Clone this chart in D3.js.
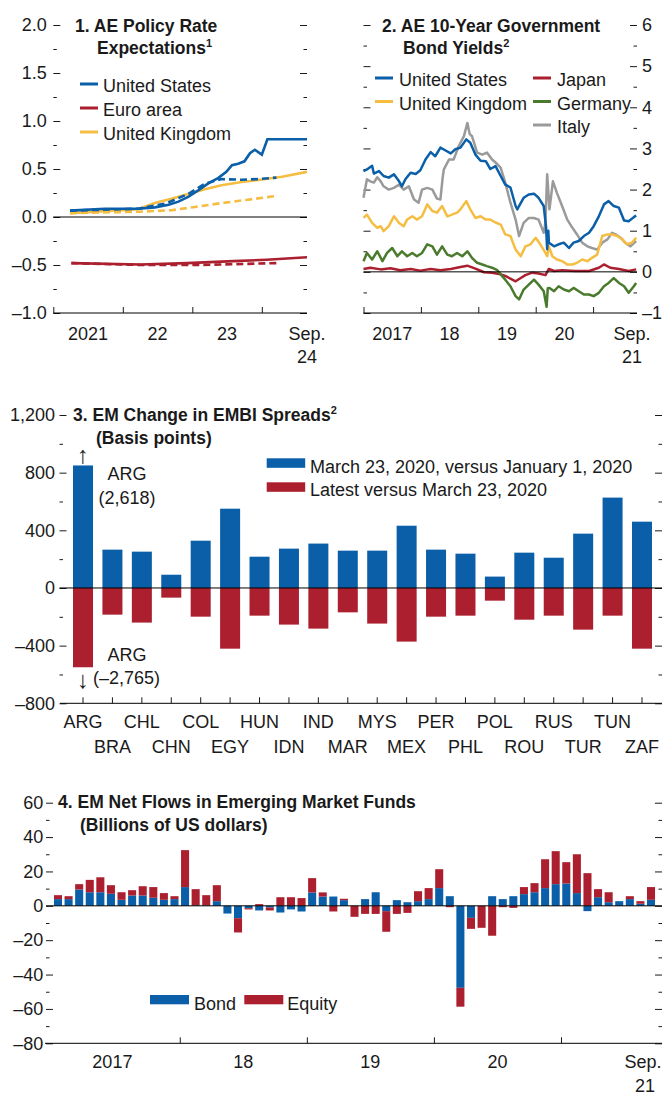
<!DOCTYPE html>
<meta charset="utf-8">
<style>
  body { margin: 0; background: #fff; }
  svg { font-family: "Liberation Sans", Arial, sans-serif; fill: #1a1a1a; }
  .axis .domain { display: none; }
  .axis line { stroke: #1a1a1a; }
  .axis text { font-size: 18px; fill: #1a1a1a; font-family: "Liberation Sans", Arial, sans-serif; }
  .title { font-size: 17.5px; font-weight: bold; }
  .txt { font-size: 18px; }
</style>
<script src="https://d3js.org/d3.v7.min.js"></script>
<body>
<script>

const BLUE = "#0a5fa8", RED = "#ab1f2f", YELLOW = "#f5bd42", GREEN = "#4a7a2c", GRAY = "#9a9a9a";

// ---- panel 1: policy rate expectations (decimal year, percent); "Prev" = dashed
const usNow = [[2021.24,0.066],[2021.74,0.086],[2022.22,0.086],[2022.46,0.10],[2022.66,0.128],[2022.80,0.16],
  [2022.94,0.21],[2023.09,0.28],[2023.23,0.35],[2023.37,0.405],[2023.49,0.47],[2023.57,0.54],[2023.66,0.555],
  [2023.75,0.58],[2023.83,0.665],[2023.90,0.70],[2024.00,0.65],[2024.08,0.81],[2024.65,0.81]];
const usPrev = [[2021.24,0.066],[2022.22,0.086],[2022.61,0.138],[2022.94,0.24],[2023.18,0.346],[2023.42,0.395],
  [2023.71,0.388],[2023.95,0.395],[2024.21,0.41]];
const euroNow = [[2021.26,-0.48],[2022.25,-0.495],[2022.92,-0.48],[2023.59,-0.46],[2024.07,-0.445],[2024.65,-0.42]];
const euroPrev = [[2021.26,-0.48],[2022.25,-0.50],[2023.11,-0.50],[2024.24,-0.48]];
const ukNow = [[2021.24,0.04],[2022.22,0.08],[2022.46,0.145],[2022.70,0.19],[2022.94,0.24],[2023.18,0.29],
  [2023.42,0.33],[2023.71,0.365],[2024.00,0.39],[2024.29,0.42],[2024.65,0.47]];
const ukPrev = [[2021.24,0.04],[2022.22,0.055],[2022.70,0.07],[2023.04,0.105],[2023.42,0.145],[2023.80,0.18],[2024.21,0.22]];

// ---- panel 2: 10-year yields (decimal year, percent)
const usYield = [[2017.00,2.45],[2017.06,2.49],[2017.15,2.58],[2017.18,2.39],[2017.27,2.45],[2017.35,2.33],[2017.44,2.29],
  [2017.53,2.37],[2017.62,2.2],[2017.67,2.08],[2017.73,2.25],[2017.82,2.41],[2017.91,2.38],[2017.99,2.47],[2018.08,2.73],
  [2018.17,2.91],[2018.25,2.81],[2018.34,3.02],[2018.43,2.95],[2018.52,2.88],[2018.60,2.98],[2018.69,3.02],[2018.79,3.22],
  [2018.86,3.14],[2018.95,2.85],[2019.04,2.7],[2019.13,2.69],[2019.21,2.5],[2019.30,2.57],[2019.39,2.33],[2019.47,2.12],
  [2019.56,2.05],[2019.65,1.6],[2019.68,1.52],[2019.71,1.6],[2019.79,1.8],[2019.88,1.88],[2019.97,1.9],[2020.05,1.8],
  [2020.14,1.6],[2020.18,1.1],[2020.20,0.55],[2020.22,1.0],[2020.23,0.71],[2020.32,0.62],[2020.40,0.67],[2020.49,0.71],
  [2020.58,0.58],[2020.66,0.71],[2020.75,0.75],[2020.84,0.87],[2020.93,0.95],[2021.01,1.11],[2021.10,1.35],[2021.19,1.64],
  [2021.27,1.72],[2021.36,1.6],[2021.45,1.56],[2021.54,1.25],[2021.62,1.23],[2021.71,1.33],[2021.75,1.37]];
const italyYield = [[2017.00,1.8],[2017.06,2.25],[2017.12,2.2],[2017.18,2.17],[2017.24,2.3],[2017.30,2.2],[2017.35,2.08],
  [2017.44,2.0],[2017.53,2.04],[2017.62,2.12],[2017.70,2.0],[2017.79,2.08],[2017.88,1.76],[2017.96,1.68],[2018.02,2.0],
  [2018.11,2.04],[2018.20,2.0],[2018.28,1.78],[2018.34,1.76],[2018.38,2.3],[2018.40,2.49],[2018.49,2.73],[2018.57,2.73],
  [2018.66,3.06],[2018.75,3.3],[2018.81,3.62],[2018.85,3.35],[2018.89,3.3],[2018.98,2.9],[2019.07,2.85],[2019.15,2.9],
  [2019.24,2.73],[2019.33,2.62],[2019.39,2.53],[2019.47,2.17],[2019.56,1.68],[2019.65,1.27],[2019.71,0.87],[2019.79,1.19],
  [2019.88,1.31],[2019.97,1.31],[2020.05,1.27],[2020.14,0.95],[2020.17,1.2],[2020.20,2.37],[2020.24,1.52],[2020.30,2.2],
  [2020.37,1.92],[2020.46,1.6],[2020.55,1.27],[2020.64,1.07],[2020.72,0.91],[2020.81,0.71],[2020.90,0.62],[2020.98,0.58],
  [2021.07,0.54],[2021.16,0.71],[2021.25,0.79],[2021.33,0.95],[2021.39,0.91],[2021.48,0.83],[2021.56,0.71],[2021.65,0.62],
  [2021.75,0.75]];
const ukYield = [[2017.00,1.31],[2017.06,1.39],[2017.15,1.19],[2017.24,1.07],[2017.30,1.11],[2017.35,0.99],[2017.44,1.11],
  [2017.53,1.35],[2017.62,1.19],[2017.70,1.11],[2017.76,1.27],[2017.85,1.35],[2017.93,1.27],[2018.02,1.35],[2018.11,1.64],
  [2018.20,1.48],[2018.28,1.44],[2018.37,1.6],[2018.46,1.35],[2018.54,1.39],[2018.63,1.44],[2018.69,1.52],[2018.79,1.72],
  [2018.86,1.52],[2018.95,1.31],[2019.04,1.35],[2019.13,1.27],[2019.21,1.27],[2019.30,1.2],[2019.39,1.15],[2019.47,0.91],
  [2019.56,0.87],[2019.65,0.54],[2019.74,0.38],[2019.82,0.62],[2019.91,0.67],[2020.00,0.83],[2020.08,0.67],[2020.17,0.46],
  [2020.20,0.38],[2020.23,0.62],[2020.29,0.38],[2020.37,0.3],[2020.46,0.26],[2020.55,0.18],[2020.64,0.18],[2020.72,0.22],
  [2020.81,0.3],[2020.90,0.26],[2020.98,0.34],[2021.07,0.42],[2021.16,0.87],[2021.25,0.91],[2021.33,0.91],[2021.42,0.87],
  [2021.51,0.79],[2021.59,0.67],[2021.68,0.71],[2021.75,0.83]];
const germanyYield = [[2017.00,0.26],[2017.06,0.46],[2017.15,0.3],[2017.24,0.5],[2017.33,0.26],[2017.41,0.46],[2017.50,0.58],
  [2017.59,0.38],[2017.67,0.5],[2017.76,0.38],[2017.85,0.46],[2017.93,0.38],[2018.02,0.46],[2018.11,0.67],[2018.20,0.62],
  [2018.28,0.42],[2018.37,0.62],[2018.46,0.42],[2018.54,0.38],[2018.63,0.46],[2018.72,0.38],[2018.81,0.5],[2018.89,0.34],
  [2018.98,0.22],[2019.07,0.18],[2019.15,0.14],[2019.24,0.1],[2019.33,0.04],[2019.39,-0.06],[2019.47,-0.19],[2019.56,-0.35],
  [2019.65,-0.59],[2019.71,-0.67],[2019.79,-0.43],[2019.88,-0.31],[2019.97,-0.19],[2020.05,-0.31],[2020.14,-0.47],
  [2020.19,-0.85],[2020.21,-0.4],[2020.24,-0.39],[2020.32,-0.47],[2020.40,-0.35],[2020.49,-0.43],[2020.58,-0.47],
  [2020.66,-0.39],[2020.75,-0.47],[2020.84,-0.55],[2020.93,-0.55],[2021.01,-0.59],[2021.10,-0.51],[2021.19,-0.35],
  [2021.27,-0.27],[2021.36,-0.15],[2021.45,-0.27],[2021.54,-0.35],[2021.62,-0.51],[2021.71,-0.35],[2021.75,-0.27]];
const japanYield = [[2017.00,0.07],[2017.12,0.1],[2017.30,0.06],[2017.47,0.09],[2017.64,0.04],[2017.82,0.07],[2017.99,0.03],
  [2018.17,0.07],[2018.34,0.04],[2018.52,0.07],[2018.69,0.12],[2018.81,0.15],[2018.95,0.08],[2019.10,-0.01],[2019.24,-0.02],
  [2019.39,-0.06],[2019.47,-0.1],[2019.65,-0.23],[2019.74,-0.15],[2019.82,-0.08],[2019.94,-0.02],[2020.05,-0.04],
  [2020.17,-0.08],[2020.23,0.07],[2020.32,0.02],[2020.46,0.04],[2020.69,0.02],[2020.93,0.02],[2021.10,0.1],[2021.19,0.18],
  [2021.30,0.1],[2021.45,0.07],[2021.62,0.02],[2021.75,0.06]];

// ---- panel 3: change in EMBI spreads (basis points)
const countries = ["ARG","BRA","CHL","CHN","COL","EGY","HUN","IDN","IND","MAR",
                   "MYS","MEX","PER","PHL","POL","ROU","RUS","TUR","TUN","ZAF"];
const marchVsJan = [2618, 266, 252, 92, 328, 550, 217, 273, 308, 259, 259, 432, 266, 238, 79, 245, 210, 377, 627, 460];
const latestVsMarch = [-2765, -185, -240, -67, -199, -421, -192, -254, -282, -169,
                       -247, -372, -199, -192, -88, -220, -192, -289, -192, -421];
const spreadCap = [-550, 850]; // ARG bars are cut off at these values

// ---- panel 4: monthly flows, Jan 2017 - Sep 2021 (billions of US dollars)
const bondFlows = [3.9, 3.9, 9.5, 7.9, 7.9, 7.0, 3.5, 6.0, 6.0, 4.7, 3.5, 3.9,
  10.9, 0.3, 0.2, 2.7, -4.5, -7.2, -1.4, -2.7, -1.0, -3.9, -2.1, -3.3,
  7.8, 5.4, 5.4, 3.3, 0, 3.9, 7.9, -3.1, 3.3, 2.1, 2.7, 3.9,
  10.3, 5.6, -47.7, -7.0, 0, 5.6, 3.9, 5.6, 6.8, 7.9, 10.3, 12.6,
  13.0, 7.4, -3.1, 5.0, 2.1, 2.7, 3.9, 1.2, 3.5];
const equityFlows = [2.3, 1.7, 3.1, 7.2, 8.7, 5.0, 4.4, 3.1, 5.4, 6.2, 3.9, 1.7,
  21.5, 9.4, 6.0, 9.3, 0, -8.3, -0.7, 1.0, -1.7, 5.0, 5.0, 4.5,
  8.3, 2.4, -3.3, 0.8, -6.4, -4.7, -4.7, -12.0, -4.7, -4.1, 5.8, 6.4,
  11.0, -0.8, -11.0, -6.4, -12.8, -17.4, -0.8, -1.2, 4.1, 5.3, 16.8, 19.2,
  12.4, 22.6, 19.0, 4.7, 5.8, 0, 1.7, 1.5, 7.4];
const flowMonths = d3.timeMonths(new Date(2017, 0, 1), new Date(2021, 9, 1));

// en dash for negatives, as in the source
const loc = d3.formatLocale({ decimal: ".", thousands: ",", grouping: [3], currency: ["$", ""], minus: "\u2013" });

const svg = d3.select("body").append("svg")
    .attr("width", 662).attr("height", 1094);

// left/right inside ticks (major + minor), labels on one side
function yFrame(y, x0, x1, major, minor, fmt, labelSide, pad) {
  const left = svg.append("g").attr("class", "axis").attr("transform", `translate(${x0},0)`);
  if (labelSide === "left") {
    left.call(d3.axisLeft(y).tickValues(major).tickSize(-7).tickPadding(pad).tickFormat(fmt));
  } else {
    left.call(d3.axisLeft(y).tickValues(major).tickSize(-7).tickFormat(""));
  }
  svg.append("g").attr("class", "axis").attr("transform", `translate(${x0},0)`)
      .call(d3.axisLeft(y).tickValues(minor).tickSize(-3.5).tickFormat(""));
  const right = svg.append("g").attr("class", "axis").attr("transform", `translate(${x1},0)`);
  if (labelSide === "right") {
    right.call(d3.axisRight(y).tickValues(major).tickSize(-7).tickPadding(pad).tickFormat(fmt));
  } else {
    right.call(d3.axisRight(y).tickValues(major).tickSize(-7).tickFormat(""));
  }
  svg.append("g").attr("class", "axis").attr("transform", `translate(${x1},0)`)
      .call(d3.axisRight(y).tickValues(minor).tickSize(-3.5).tickFormat(""));
}

function hline(x0, x1, yv) {
  svg.append("line").attr("x1", x0).attr("x2", x1).attr("y1", yv).attr("y2", yv)
      .attr("stroke", "#000").attr("stroke-width", 1);
}

function title(x, indent, y, line1, line2, sup, supOnFirst) {
  const t1 = svg.append("text").attr("class", "title").attr("x", x).attr("y", y).text(line1);
  const t2 = svg.append("text").attr("class", "title").attr("x", x + indent).attr("y", y + 22.7).text(line2);
  if (sup) {
    (supOnFirst ? t1 : t2).append("tspan").attr("font-size", 11).attr("dy", -7).text(sup);
  }
}

function txt(x, y, s, anchor) {
  return svg.append("text").attr("class", "txt").attr("x", x).attr("y", y)
      .attr("text-anchor", anchor || "start").text(s);
}

// ================= Panel 1 =================
{
  const x = d3.scaleLinear().domain([2021, 2024.65]).range([53.3, 307]);
  const y = d3.scaleLinear().domain([-1, 2]).range([313, 25]);
  yFrame(y, 53.3, 307, [-1, -0.5, 0, 0.5, 1, 1.5, 2], [-0.75, -0.25, 0.25, 0.75, 1.25, 1.75],
         loc.format(".1f"), "left", 6.6);
  hline(53.3, 307, y(0));
  hline(53.3, 307, 313);
  svg.append("g").attr("class", "axis").attr("transform", "translate(0,313)")
      .call(d3.axisBottom(x).tickValues([2021, 2022, 2023, 2024]).tickSize(-6).tickFormat(""));
  txt((x(2021) + x(2022)) / 2, 340, "2021", "middle");
  txt(x(2022.5), 340, "22", "middle");
  txt(x(2023.5), 340, "23", "middle");
  txt(307, 340, "Sep.", "middle");
  txt(307, 362.5, "24", "middle");

  const line = d3.line().x(d => x(d[0])).y(d => y(d[1]));
  const series = [
    [ukPrev, YELLOW, true], [ukNow, YELLOW, false],
    [euroPrev, RED, true], [euroNow, RED, false],
    [usNow, BLUE, false], [usPrev, BLUE, true]
  ];
  series.forEach(([d, c, dashed]) => {
    svg.append("path").datum(d).attr("d", line).attr("fill", "none")
        .attr("stroke", c).attr("stroke-width", 2.6)
        .attr("stroke-dasharray", dashed ? "7,4" : null);
  });

  title(75, 22, 31.7, "1. AE Policy Rate", "Expectations", "1", false);
  [["United States", BLUE], ["Euro area", RED], ["United Kingdom", YELLOW]].forEach(([n, c], i) => {
    const by = 92 + i * 24;
    svg.append("line").attr("x1", 80).attr("x2", 98).attr("y1", by - 8).attr("y2", by - 8)
        .attr("stroke", c).attr("stroke-width", 3);
    txt(103, by, n);
  });
}

// ================= Panel 2 =================
{
  const x = d3.scaleLinear().domain([2017, 2021.765]).range([363.5, 637]);
  const y = d3.scaleLinear().domain([-1, 6]).range([313, 25]);
  yFrame(y, 363.5, 637, d3.range(-1, 7), d3.range(-0.5, 6, 1), loc.format("d"), "right", 5);
  hline(363.5, 637, 313);
  svg.append("g").attr("class", "axis").attr("transform", "translate(0,313)")
      .call(d3.axisBottom(x).tickValues([2017, 2018, 2019, 2020, 2021]).tickSize(-6).tickFormat(""));
  txt((x(2017) + x(2018)) / 2, 340, "2017", "middle");
  txt(x(2018.5), 340, "18", "middle");
  txt(x(2019.5), 340, "19", "middle");
  txt(x(2020.5), 340, "20", "middle");
  txt(632, 340, "Sep.", "middle");
  txt(632, 362.5, "21", "middle");

  const line = d3.line().x(d => x(d[0])).y(d => y(d[1]));
  [[italyYield, GRAY], [japanYield, RED], [germanyYield, GREEN], [ukYield, YELLOW], [usYield, BLUE]]
    .forEach(([d, c]) => {
      svg.append("path").datum(d).attr("d", line).attr("fill", "none")
          .attr("stroke", c).attr("stroke-width", 2.5).attr("stroke-linejoin", "round");
    });
  hline(363.5, 637, y(0));

  title(382, 21, 31.7, "2. AE 10-Year Government", "Bond Yields", "2", false);
  [["United States", BLUE, 375, 0], ["Japan", RED, 533, 0], ["United Kingdom", YELLOW, 375, 1],
   ["Germany", GREEN, 533, 1], ["Italy", GRAY, 533, 2]].forEach(([n, c, lx, r]) => {
    const by = 86 + r * 23.5;
    svg.append("line").attr("x1", lx).attr("x2", lx + 18).attr("y1", by - 8).attr("y2", by - 8)
        .attr("stroke", c).attr("stroke-width", 3);
    txt(lx + 24, by, n);
  });
}

// ================= Panel 3 =================
{
  const x = d3.scaleBand().domain(countries).range([68.3, 656.7]).paddingInner(0.32).paddingOuter(0.16);
  const y = d3.scaleLinear().domain([-800, 1200]).range([703.3, 415]);
  yFrame(y, 59.5, 662, [-800, -400, 0, 400, 800, 1200], [-600, -200, 200, 600, 1000],
         loc.format(","), "left", 4.5);

  svg.append("g").selectAll("rect.up").data(countries).join("rect")
      .attr("x", d => x(d)).attr("width", x.bandwidth())
      .attr("y", (d, i) => y(Math.min(marchVsJan[i], spreadCap[1])))
      .attr("height", (d, i) => y(0) - y(Math.min(marchVsJan[i], spreadCap[1])))
      .attr("fill", BLUE);
  svg.append("g").selectAll("rect.down").data(countries).join("rect")
      .attr("x", d => x(d)).attr("width", x.bandwidth())
      .attr("y", y(0))
      .attr("height", (d, i) => y(Math.max(latestVsMarch[i], spreadCap[0])) - y(0))
      .attr("fill", RED);

  hline(59.5, 662, y(0));
  hline(60, 662, 703.3);
  svg.append("g").attr("class", "axis").attr("transform", "translate(0,703.3)")
      .call(d3.axisBottom(x).tickSize(-6).tickFormat(""));
  countries.forEach((c, i) => {
    txt(x(c) + x.bandwidth() / 2, i % 2 === 0 ? 728 : 752.5, c, "middle");
  });

  // ARG off-scale notes
  const ax = x("ARG") + x.bandwidth() / 2;
  txt(ax, 463, "↑", "middle").style("font-size", "24px");
  txt(127, 480, "ARG", "middle");
  txt(127, 503.5, "(" + loc.format(",")(marchVsJan[0]) + ")", "middle");
  txt(127, 660.7, "ARG", "middle");
  txt(ax, 688, "↓", "middle").style("font-size", "24px");
  txt(93, 683.5, "(" + loc.format(",")(latestVsMarch[0]) + ")");

  title(73, 23, 421, "3. EM Change in EMBI Spreads", "(Basis points)", "2", true);
  svg.append("rect").attr("x", 266.7).attr("y", 458.3).attr("width", 38.5).attr("height", 9.5).attr("fill", BLUE);
  svg.append("rect").attr("x", 266.7).attr("y", 482.3).attr("width", 38.5).attr("height", 9.5).attr("fill", RED);
  txt(310, 472.7, "March 23, 2020, versus January 1, 2020");
  txt(310, 496.3, "Latest versus March 23, 2020");
}

// ================= Panel 4 =================
{
  const idx = d3.range(flowMonths.length);
  const x = d3.scaleBand().domain(idx).range([52.7, 656.3]).paddingInner(0.24).paddingOuter(0.12);
  const xm = d3.scaleLinear().domain([0, flowMonths.length]).range([52.7, 656.3]);
  const y = d3.scaleLinear().domain([-80, 60]).range([1043.3, 802.7]);
  yFrame(y, 46, 662, d3.range(-80, 61, 20), d3.range(-70, 60, 20), loc.format("d"), "left", 2.7);

  const rows = idx.map(i => ({ month: flowMonths[i], bond: bondFlows[i], equity: equityFlows[i] }));
  const stacked = d3.stack().keys(["bond", "equity"]).offset(d3.stackOffsetDiverging)(rows);
  const colors = { bond: BLUE, equity: RED };
  svg.append("g").selectAll("g").data(stacked).join("g")
      .attr("fill", s => colors[s.key])
    .selectAll("rect").data(s => s).join("rect")
      .attr("x", (d, i) => x(i)).attr("width", x.bandwidth())
      .attr("y", d => y(Math.max(d[0], d[1])))
      .attr("height", d => Math.abs(y(d[0]) - y(d[1])));

  hline(46, 662, y(0));
  hline(45, 662, 1043.3);
  svg.append("g").attr("class", "axis").attr("transform", "translate(0,1043.3)")
      .call(d3.axisBottom(xm).tickValues([12, 24, 36, 48]).tickSize(-6).tickFormat(""));
  txt((45 + xm(12)) / 2, 1068, "2017", "middle");
  txt(xm(18), 1068, "18", "middle");
  txt(xm(30), 1068, "19", "middle");
  txt(xm(42), 1068, "20", "middle");
  txt(643, 1068, "Sep.", "middle");
  txt(645, 1091.5, "21", "middle");

  title(58, 22, 808.3, "4. EM Net Flows in Emerging Market Funds", "(Billions of US dollars)", null);
  svg.append("rect").attr("x", 150).attr("y", 995).attr("width", 39).attr("height", 9.3).attr("fill", BLUE);
  txt(194, 1010, "Bond");
  svg.append("rect").attr("x", 244.3).attr("y", 995).attr("width", 39).attr("height", 9.3).attr("fill", RED);
  txt(287.3, 1010, "Equity");
}

</script>
</body>
